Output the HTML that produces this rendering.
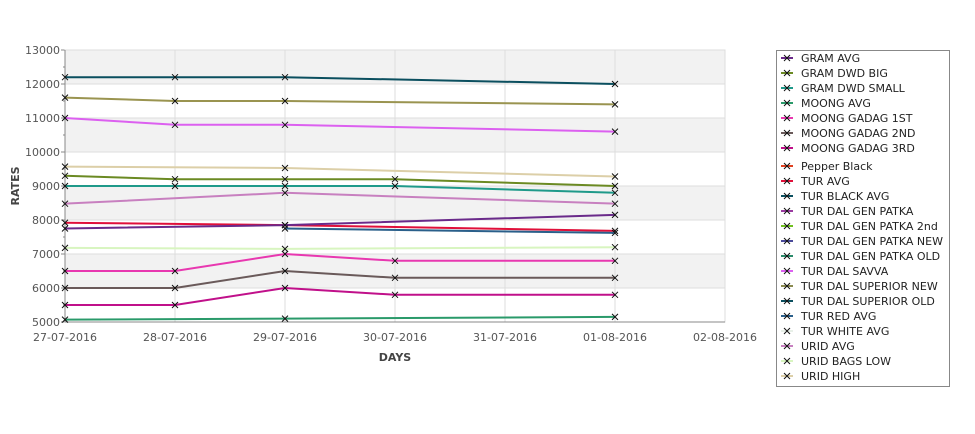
<!DOCTYPE html>
<html><head><meta charset="utf-8">
<style>
body{margin:0;background:#fff;font-family:"Liberation Sans","DejaVu Sans",sans-serif;}
svg text{font-family:"DejaVu Sans","Liberation Sans",sans-serif;}
</style></head>
<body>
<svg id="chart" width="975" height="429" xmlns="http://www.w3.org/2000/svg"></svg>
<script>
const dates=["27-07-2016","28-07-2016","29-07-2016","30-07-2016","31-07-2016","01-08-2016","02-08-2016"];
const yTicks=[5000,6000,7000,8000,9000,10000,11000,12000,13000];
const seriesNames=["TUR DAL SUPERIOR OLD","TUR DAL SUPERIOR NEW","TUR DAL SAVVA","URID HIGH","GRAM DWD BIG","GRAM DWD SMALL","URID AVG","TUR AVG","GRAM AVG","TUR RED AVG","URID BAGS LOW","MOONG GADAG 1ST","MOONG GADAG 2ND","MOONG GADAG 3RD","MOONG AVG"];
const seriesColors=["#0b4f5f","#9a9450","#dc60f0","#dccfa8","#6b8a23","#1f9a8a","#c880c0","#e0103a","#6a2a8a","#2a5f8a","#d8f5c0","#e838b0","#6a5a5a","#c0108a","#2a9a6a"];
const seriesDays=[[0,1,2,5],[0,1,2,5],[0,1,2,5],[0,2,5],[0,1,2,3,5],[0,1,2,3,5],[0,2,5],[0,2,5],[0,2,5],[2,5],[0,2,5],[0,1,2,3,5],[0,1,2,3,5],[0,1,2,3,5],[0,2,5]];
const seriesValues=[[12200,12200,12200,12000],[11600,11500,11500,11400],[11000,10800,10800,10600],[9570,9530,9280],[9300,9200,9200,9200,9000],[9000,9000,9000,9000,8800],[8480,8800,8480],[7920,7850,7680],[7750,7850,8150],[7750,7620],[7180,7150,7200],[6500,6500,7000,6800,6800],[6000,6000,6500,6300,6300],[5500,5500,6000,5800,5800],[5070,5100,5150]];
const legendNames=["GRAM AVG","GRAM DWD BIG","GRAM DWD SMALL","MOONG AVG","MOONG GADAG 1ST","MOONG GADAG 2ND","MOONG GADAG 3RD","Pepper Black","TUR AVG","TUR BLACK AVG","TUR DAL GEN PATKA","TUR DAL GEN PATKA 2nd","TUR DAL GEN PATKA NEW","TUR DAL GEN PATKA OLD","TUR DAL SAVVA","TUR DAL SUPERIOR NEW","TUR DAL SUPERIOR OLD","TUR RED AVG","TUR WHITE AVG","URID AVG","URID BAGS LOW","URID HIGH"];
const legendColors=["#6a2a8a","#6b8a23","#1f9a8a","#2a9a6a","#e838b0","#6a5a5a","#c0108a","#e04020","#e0103a","#0b4f5f","#9a3aa0","#70c020","#4a4a9a","#2a8a6a","#dc60f0","#8a8a50","#0b4f5f","#2a5f8a","#e8f0e8","#c880c0","#d8f5c0","#dccfa8"];

const NS="http://www.w3.org/2000/svg";
const svg=document.getElementById('chart');
const X0=65,X1=725,Y0=322,Y1=50;
function xs(i){return X0+i*(X1-X0)/(dates.length-1);}
function ys(v){return Y0-(v-5000)*(Y0-Y1)/8000;}
function mk(tag,attrs,parent){const e=document.createElementNS(NS,tag);for(const k in attrs)e.setAttribute(k,attrs[k]);(parent||svg).appendChild(e);return e;}

// bands
for(let i=0;i<yTicks.length-1;i++){
  const r=mk('rect',{x:X0,y:ys(yTicks[i+1]),width:X1-X0,height:ys(yTicks[i])-ys(yTicks[i+1]),fill:(i%2===1)?'#f2f2f2':'#ffffff'});
  
  
}
// grid
yTicks.forEach(v=>{
  const l=mk('line',{x1:X0,x2:X1,y1:ys(v),y2:ys(v),stroke:'#dddddd'});
  
  
  const t=mk('text',{x:X0-5,y:ys(v)+4,'text-anchor':'end','font-size':'11',fill:'#555'});
  t.textContent=v;
  
  
  mk('line',{x1:X0-4,x2:X0,y1:ys(v),y2:ys(v),stroke:'#888'});
  if(v<13000){mk('line',{x1:X0-2,x2:X0,y1:ys(v+500),y2:ys(v+500),stroke:'#888'});}
});
dates.forEach((d,i)=>{
  const l=mk('line',{x1:xs(i),x2:xs(i),y1:Y1,y2:Y0,stroke:'#dddddd'});
  
  
  const t=mk('text',{x:xs(i),y:Y0+19,'text-anchor':'middle','font-size':'11',fill:'#555'});
  t.textContent=d;
  
  
});
mk('rect',{x:X0,y:Y1,width:X1-X0,height:Y0-Y1,fill:'none',stroke:'#dddddd'});
mk('line',{x1:X0,x2:X0,y1:Y1,y2:Y0,stroke:'#888'});
mk('line',{x1:X0,x2:X1,y1:Y0,y2:Y0,stroke:'#888'});

// series
seriesNames.forEach((n,s)=>{
  const g=mk('g',{});
  
  
  const pts=seriesDays[s].map((d,k)=>xs(d)+','+ys(seriesValues[s][k])).join(' ');
  mk('polyline',{points:pts,fill:'none',stroke:seriesColors[s],'stroke-width':'2'},g);
  seriesDays[s].forEach((d,k)=>{
    const cx=xs(d),cy=ys(seriesValues[s][k]);
    const p=mk('path',{d:`M${cx-3},${cy-3}L${cx+3},${cy+3}M${cx-3},${cy+3}L${cx+3},${cy-3}`,stroke:'#111','stroke-width':'1'},g);
    
    
  });
});

// axis titles
const yt=mk('text',{x:0,y:0,transform:'translate(19,186) rotate(-90)','text-anchor':'middle','font-size':'11','font-weight':'bold',fill:'#444'});
yt.textContent='RATES';


const xt=mk('text',{x:395,y:361,'text-anchor':'middle','font-size':'11','font-weight':'bold',fill:'#444'});
xt.textContent='DAYS';



// legend
const lg=mk('g',{});


mk('rect',{x:776.5,y:50.5,width:173,height:336,fill:'#fff',stroke:'#888'},lg);
legendNames.forEach((n,i)=>{
  const y=58+i*15+(i>=7?3:0);
  const e=mk('g',{},lg);
  
  
  mk('line',{x1:781,x2:793,y1:y,y2:y,stroke:legendColors[i],'stroke-width':'2'},e);
  mk('path',{d:`M784,${y-3}L790,${y+3}M784,${y+3}L790,${y-3}`,stroke:'#111'},e);
  const t=mk('text',{x:801,y:y+4,'font-size':'11',fill:'#222'},e);
  t.textContent=n;
});
</script>
</body></html>
